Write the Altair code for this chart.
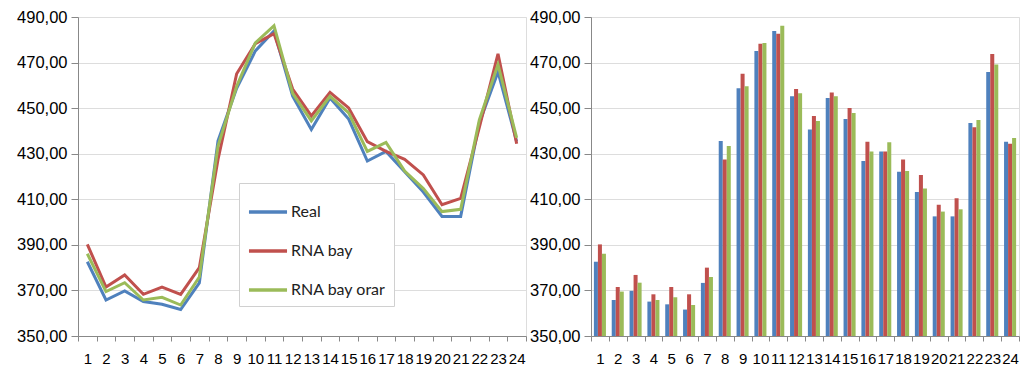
import altair as alt
import pandas as pd

hours = list(range(1, 25))
real = [382.6, 365.8, 369.8, 365.1, 363.9, 361.6, 373.3, 435.6, 458.7, 475.1, 483.9, 455.2,
        440.6, 454.5, 445.2, 426.8, 431.0, 422.1, 413.2, 402.5, 402.5, 443.5, 465.9, 435.3]
rna_bay = [390.2, 371.5, 376.8, 368.3, 371.5, 368.3, 380.0, 427.5, 465.1, 478.3, 482.7, 458.4,
           446.6, 456.9, 450.1, 435.3, 431.0, 427.5, 420.7, 407.6, 410.4, 441.6, 473.8, 434.4]
rna_bay_orar = [386.1, 369.5, 373.4, 365.8, 367.0, 363.6, 375.9, 433.4, 459.6, 478.6, 486.2, 456.5,
                444.4, 455.2, 447.9, 431.0, 435.0, 422.4, 414.7, 404.6, 405.6, 444.8, 469.1, 436.9]

series = ["Real", "RNA bay", "RNA bay orar"]
colors = ["#4F81BD", "#C0504D", "#9BBB59"]
y_ticks = [350, 370, 390, 410, 430, 450, 470, 490]
y_min, y_max = 350, 490

rows = []
for name, vals in zip(series, [real, rna_bay, rna_bay_orar]):
    for h, v in zip(hours, vals):
        rows.append({"hour": h, "serie": name, "value": v})
df = pd.DataFrame(rows)

FONT = "Lato"
label_expr = "replace(format(datum.value, '.2f'), '.', ',')"

y_scale = alt.Scale(domain=[y_min, y_max], nice=False, zero=False)
y_axis = alt.Axis(values=y_ticks, labelExpr=label_expr, title=None, tickSize=7,
                  labelFontSize=16.5, labelPadding=4, grid=True)
x_axis = alt.Axis(title=None, labelAngle=0, tickBand="extent", tickSize=5,
                  labelFontSize=15, labelPadding=10, grid=False)

color_enc_line = alt.Color(
    "serie:N",
    scale=alt.Scale(domain=series, range=colors),
    legend=alt.Legend(
        title=None, orient="none", legendX=161, legendY=166,
        symbolType="stroke", symbolStrokeWidth=3.5, symbolSize=1450,
        labelFontSize=16, labelFont=FONT, labelColor="#222222", rowPadding=10,
        padding=8, strokeColor="#d0d0d0", fillColor="white",
        labelOffset=2,
    ),
)

line = alt.Chart(df).mark_line(strokeWidth=3).encode(
    x=alt.X("hour:O", scale=alt.Scale(type="band", paddingInner=0, paddingOuter=0), axis=x_axis),
    y=alt.Y("value:Q", scale=y_scale, axis=y_axis),
    color=color_enc_line,
).properties(width=448, height=319)

bars = alt.Chart(df).mark_bar().encode(
    x=alt.X("hour:O", scale=alt.Scale(paddingInner=0, paddingOuter=0), axis=x_axis),
    xOffset=alt.XOffset("serie:N", sort=series, scale=alt.Scale(paddingInner=0, paddingOuter=0.72)),
    y=alt.Y("value:Q", scale=y_scale, axis=y_axis),
    y2=alt.datum(y_min),
    color=alt.Color("serie:N", scale=alt.Scale(domain=series, range=colors), legend=None),
).properties(width=428, height=319)

chart = alt.hconcat(line, bars, spacing=2).resolve_scale(color="independent").properties(
    padding={"left": 16, "top": 8, "right": 0, "bottom": 0}
).configure_view(stroke=None).configure_axis(
    labelFont=FONT, labelColor="#222222", domainColor="#8c8c8c", tickColor="#8c8c8c",
    gridColor="#8c8c8c", gridWidth=1, domainWidth=1,
).configure(background="white")

chart.save("out.html", embed_options={"renderer": "svg", "actions": False})
